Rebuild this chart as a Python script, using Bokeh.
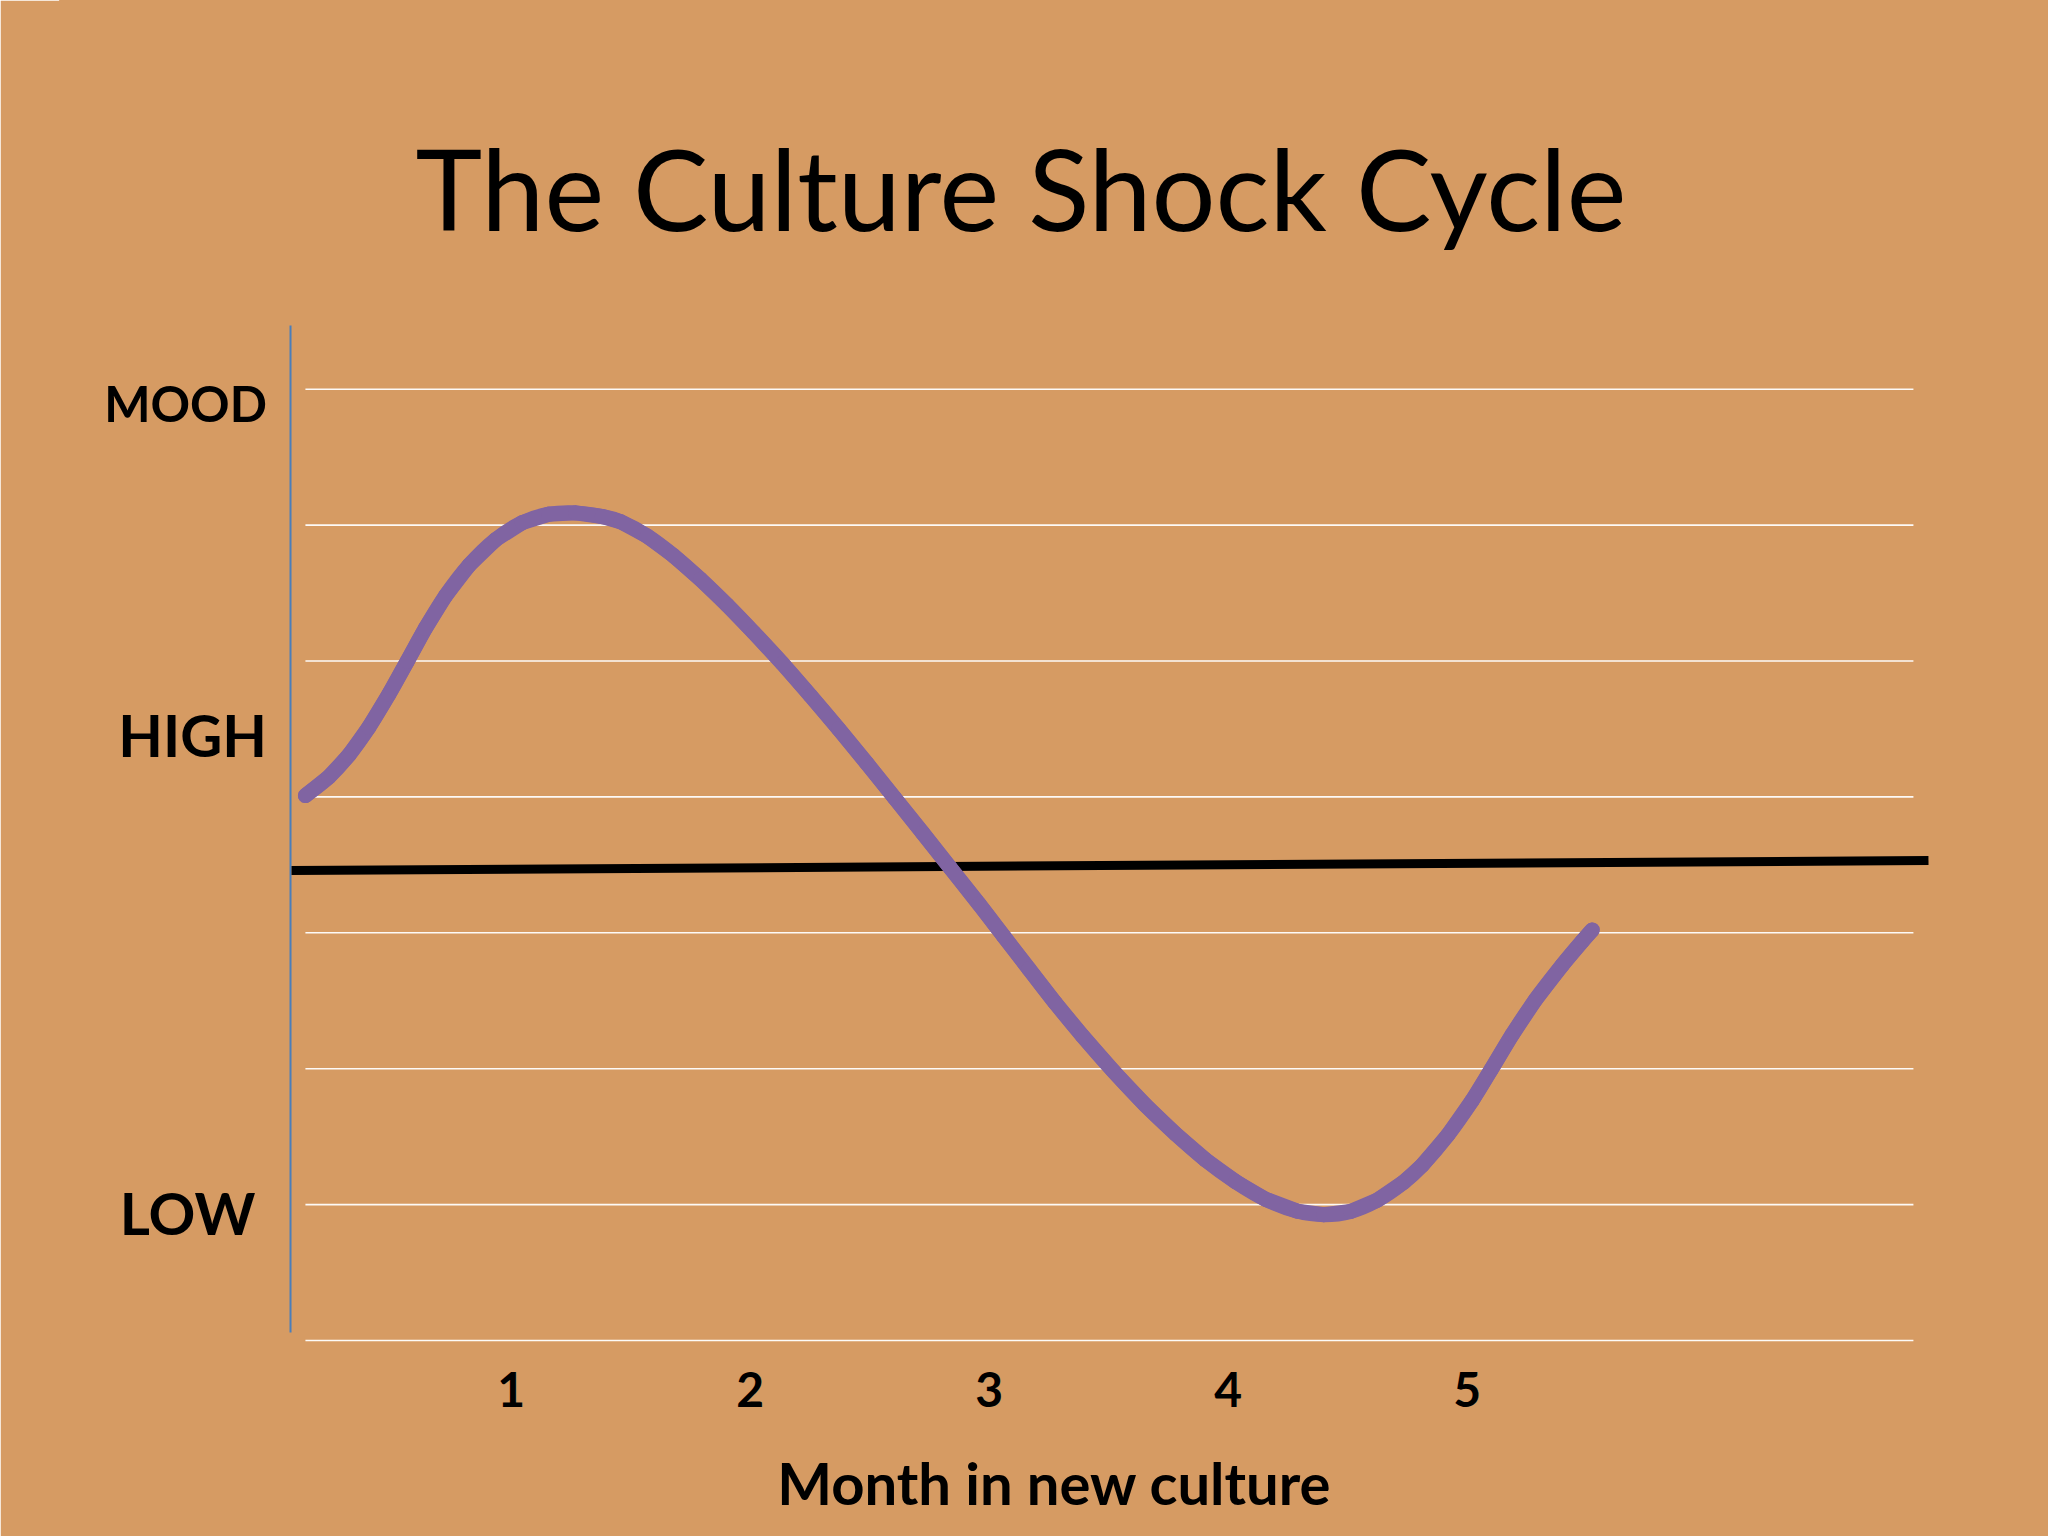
from bokeh.plotting import figure
from bokeh.models import Range1d, FixedTicker
from bokeh.core.properties import value
from bokeh.embed import file_html
from bokeh.resources import INLINE

# ---------------- data ----------------
title_text = "The Culture Shock Cycle"
x_axis_title = "Month in new culture"
month_ticks = [1, 2, 3, 4, 5]
grid_levels = [0, 1, 2, 3, 4, 5, 6, 7]

y_label_small = ["MOOD"]
y_level_small = [6.896]
y_labels_big = ["HIGH", "LOW"]
y_levels_big = [4.461, 0.943]

# mood curve (month, mood level)
mood_month = [0.139, 0.237, 0.321, 0.404, 0.488, 0.565, 0.641, 0.725, 0.823, 0.934,
              1.046, 1.157, 1.269, 1.381, 1.457, 1.569, 1.680, 1.792, 1.904, 2.015,
              2.134, 2.252, 2.370, 2.487, 2.604, 2.721, 2.838, 2.957, 3.061, 3.166,
              3.277, 3.389, 3.521, 3.654, 3.780, 3.905, 4.031, 4.156, 4.289, 4.400,
              4.512, 4.623, 4.735, 4.812, 4.919, 5.021, 5.100, 5.188, 5.286, 5.398,
              5.481, 5.523]
mood_level = [4.010, 4.147, 4.308, 4.511, 4.755, 4.998, 5.241, 5.479, 5.703, 5.892,
              6.018, 6.080, 6.090, 6.063, 6.025, 5.919, 5.774, 5.601, 5.411, 5.209,
              4.983, 4.745, 4.500, 4.249, 3.993, 3.736, 3.476, 3.212, 2.974, 2.735,
              2.483, 2.244, 1.979, 1.731, 1.520, 1.330, 1.169, 1.040, 0.952, 0.926,
              0.950, 1.032, 1.166, 1.290, 1.512, 1.767, 1.993, 2.250, 2.508, 2.763,
              2.937, 3.021]

baseline_month = [0.081, 6.93]
baseline_level = [3.458, 3.532]

# chart furniture positions (data units)
grid_start, grid_end = 0.139, 6.867
axis_month = [0.0766, 0.0766]
axis_level = [0.059, 7.469]
title_x, title_y = 3.133, 8.486
label_x_high = -0.022
label_x_low = -0.070

# ---------------- figure ----------------
WOOD = "#D69B63"
PURPLE = "#8064A2"
FONT = value("Lato")

p = figure(width=2048, height=1536,
           x_range=Range1d(-0.8858, 7.4322), y_range=Range1d(-0.0147, 9.8602),
           y_axis_location=None, toolbar_location=None, output_backend="svg",
           min_border_left=60, min_border_right=0, min_border_top=0,
           min_border_bottom=194, title=None)
p.background_fill_color = WOOD
p.border_fill_color = WOOD
p.outline_line_color = WOOD
p.outline_line_width = 3
p.grid.visible = False

# horizontal gridlines
p.segment(x0=[grid_start] * len(grid_levels), x1=[grid_end] * len(grid_levels),
          y0=grid_levels, y1=grid_levels,
          line_color="white", line_width=1.6, line_alpha=0.95)

# x axis: month ticks and title
xa = p.xaxis[0]
xa.ticker = FixedTicker(ticks=month_ticks)
xa.axis_line_color = None
xa.major_tick_line_color = None
xa.minor_tick_line_color = None
xa.major_tick_out = 0
xa.major_tick_in = 0
xa.minor_tick_out = 0
xa.minor_tick_in = 0
xa.major_label_text_font = "Lato"
xa.major_label_text_font_style = "bold"
xa.major_label_text_font_size = "48px"
xa.major_label_text_color = "black"
xa.major_label_standoff = 29
xa.axis_label = x_axis_title
xa.axis_label_text_font = "Lato"
xa.axis_label_text_font_style = "bold"
xa.axis_label_text_font_size = "58px"
xa.axis_label_text_color = "black"
xa.axis_label_standoff = 38

# vertical axis line
p.line(axis_month, axis_level, line_color="#4A7EBB", line_width=2)

# neutral baseline
p.line(baseline_month, baseline_level, line_color="black", line_width=9)

# mood curve: the read points as a line ...
p.line(mood_month, mood_level, line_color=PURPLE, line_width=15,
       line_join="round", line_cap="round")

# ... drawn smooth (Catmull-Rom style Bezier pieces through the same points)
n = len(mood_month)


def _pt(i):
    i = max(0, min(n - 1, i))
    return mood_month[i], mood_level[i]


bx0, by0, bx1, by1, cx0, cy0, cx1, cy1 = [], [], [], [], [], [], [], []
for i in range(n - 1):
    xa_, ya_ = _pt(i - 1)
    xb, yb = _pt(i)
    xc, yc = _pt(i + 1)
    xd, yd = _pt(i + 2)
    bx0.append(xb); by0.append(yb); bx1.append(xc); by1.append(yc)
    cx0.append(xb + (xc - xa_) / 6.0); cy0.append(yb + (yc - ya_) / 6.0)
    cx1.append(xc - (xd - xb) / 6.0); cy1.append(yc - (yd - yb) / 6.0)

p.bezier(x0=bx0, y0=by0, x1=bx1, y1=by1, cx0=cx0, cy0=cy0, cx1=cx1, cy1=cy1,
         line_color=PURPLE, line_width=15, line_cap="round")

# title
p.text(x=[title_x], y=[title_y], text=[title_text],
       text_font=FONT, text_font_size="113px", text_color="black",
       text_align="center", text_baseline="alphabetic")

# y labels
p.text(x=[label_x_high], y=y_level_small, text=y_label_small,
       text_font=FONT, text_font_size="49px", text_font_style="bold",
       text_color="black", text_align="right", text_baseline="alphabetic")
p.text(x=[label_x_high, label_x_low], y=y_levels_big, text=y_labels_big,
       text_font=FONT, text_font_size="58px", text_font_style="bold",
       text_color="black", text_align="right", text_baseline="alphabetic")

open("out.html", "w").write(file_html(p, INLINE))
